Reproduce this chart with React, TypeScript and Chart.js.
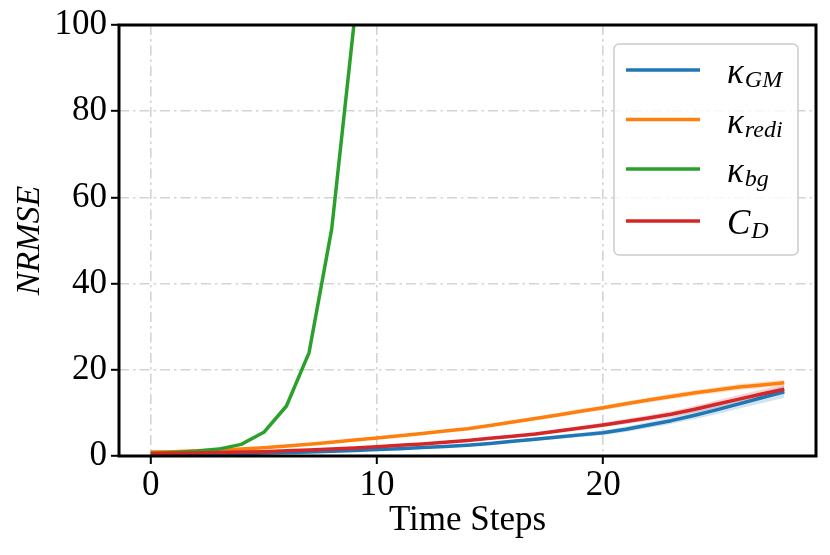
import { useEffect, useRef } from "react";
import { Chart, registerables } from "chart.js";

Chart.register(...registerables);

const steps = [0, 1, 2, 3, 4, 5, 6, 7, 8, 9, 10, 11, 12, 13, 14, 15, 16, 17, 18, 19, 20, 21, 22, 23, 24, 25, 26, 27, 28];

const kappaGM = [0.4, 0.45, 0.5, 0.55, 0.6, 0.7, 0.8, 0.95, 1.1, 1.3, 1.5, 1.7, 1.95, 2.2, 2.5, 2.9, 3.4, 3.9, 4.4, 4.9, 5.4, 6.2, 7.2, 8.2, 9.4, 10.7, 12.1, 13.5, 14.9];
const kappaRedi = [0.9, 1.0, 1.2, 1.4, 1.6, 1.9, 2.3, 2.7, 3.2, 3.7, 4.2, 4.7, 5.2, 5.8, 6.3, 7.1, 7.9, 8.7, 9.5, 10.4, 11.2, 12.1, 13.0, 13.8, 14.6, 15.3, 16.0, 16.5, 17.0];
const kappaBgSteps = [0, 1, 2, 3, 4, 5, 6, 7, 8, 9, 10];
const kappaBg = [0.6, 0.8, 1.1, 1.6, 2.7, 5.5, 11.6, 24.0, 52.7, 101.0, 190.0];
const dragCD = [0.6, 0.65, 0.7, 0.8, 0.9, 1.0, 1.2, 1.4, 1.6, 1.85, 2.15, 2.5, 2.8, 3.2, 3.6, 4.1, 4.6, 5.1, 5.8, 6.5, 7.2, 8.0, 8.8, 9.7, 10.8, 12.0, 13.2, 14.4, 15.5];

const stdGM = [0.05, 0.05, 0.05, 0.06, 0.07, 0.08, 0.09, 0.1, 0.12, 0.14, 0.16, 0.18, 0.2, 0.23, 0.26, 0.3, 0.34, 0.38, 0.43, 0.48, 0.54, 0.62, 0.7, 0.8, 0.9, 1.0, 1.1, 1.25, 1.4];
const stdRedi = [0.05, 0.05, 0.06, 0.07, 0.08, 0.09, 0.1, 0.12, 0.14, 0.16, 0.18, 0.2, 0.23, 0.26, 0.3, 0.34, 0.38, 0.42, 0.46, 0.5, 0.54, 0.57, 0.6, 0.62, 0.64, 0.66, 0.68, 0.7, 0.72];
const stdCD = [0.05, 0.05, 0.05, 0.06, 0.07, 0.08, 0.09, 0.1, 0.12, 0.14, 0.16, 0.18, 0.2, 0.23, 0.26, 0.3, 0.34, 0.38, 0.42, 0.47, 0.52, 0.58, 0.64, 0.7, 0.78, 0.86, 0.94, 1.02, 1.1];

const xTicks = [0, 10, 20];
const yTicks = [0, 20, 40, 60, 80, 100];

const xTitle = "Time Steps";
const yTitle = "NRMSE";

const legendMain = ["κ", "κ", "κ", "C"];
const legendSub = ["GM", "redi", "bg", "D"];
const colors = ["#1f77b4", "#ff7f0e", "#2ca02c", "#d62728"];

const FONT = '"Liberation Serif", "Times New Roman", serif';

function pts(xs: number[], ys: number[]) {
  return ys.map((y, i) => ({ x: xs[i], y }));
}
function band(xs: number[], ys: number[], sd: number[], sign: number) {
  return ys.map((y, i) => ({ x: xs[i], y: y + sign * sd[i] }));
}
function rgba(hex: string, a: number) {
  const r = parseInt(hex.slice(1, 3), 16);
  const g = parseInt(hex.slice(3, 5), 16);
  const b = parseInt(hex.slice(5, 7), 16);
  return `rgba(${r},${g},${b},${a})`;
}

const framePlugin = {
  id: "frame",
  afterDatasetsDraw(chart: any) {
    const { ctx, chartArea } = chart;
    const { left, top, right, bottom } = chartArea;
    ctx.save();
    ctx.strokeStyle = "#000";
    ctx.lineWidth = 3;
    ctx.strokeRect(left, top, right - left, bottom - top);
    ctx.restore();
  },
};

const legendPlugin = {
  id: "mathLegend",
  afterDraw(chart: any) {
    const { ctx } = chart;
    const bx = 614, by = 44, bw = 184, bh = 211;
    ctx.save();
    ctx.beginPath();
    ctx.roundRect(bx, by, bw, bh, 5);
    ctx.fillStyle = "rgba(255,255,255,0.8)";
    ctx.fill();
    ctx.strokeStyle = "#cccccc";
    ctx.lineWidth = 1.5;
    ctx.stroke();
    const rows = [70, 119.5, 169, 221];
    rows.forEach((ly, i) => {
      ctx.beginPath();
      ctx.strokeStyle = colors[i];
      ctx.lineWidth = 3.5;
      ctx.moveTo(626, ly);
      ctx.lineTo(700, ly);
      ctx.stroke();
      ctx.fillStyle = "#000";
      ctx.textAlign = "left";
      ctx.textBaseline = "alphabetic";
      ctx.font = `italic 35px ${FONT}`;
      const mx = 727;
      ctx.fillText(legendMain[i], mx, ly + 13);
      const w = ctx.measureText(legendMain[i]).width;
      ctx.font = `italic 24px ${FONT}`;
      ctx.fillText(legendSub[i], mx + w + 1, ly + 17);
    });
    ctx.restore();
  },
};

export default function App() {
  const ref = useRef<HTMLCanvasElement | null>(null);
  useEffect(() => {
    if (!ref.current) return;
    const mkBand = (xs: number[], ys: number[], sd: number[], color: string) => [
      {
        data: band(xs, ys, sd, -1),
        borderWidth: 0,
        pointRadius: 0,
        fill: false,
        order: 10,
        borderColor: "transparent",
      },
      {
        data: band(xs, ys, sd, 1),
        borderWidth: 0,
        pointRadius: 0,
        fill: "-1",
        backgroundColor: rgba(color, 0.2),
        order: 10,
        borderColor: "transparent",
      },
    ];
    const line = (xs: number[], ys: number[], color: string, order: number) => ({
      data: pts(xs, ys),
      borderColor: color,
      backgroundColor: color,
      borderWidth: 3.5,
      pointRadius: 0,
      fill: false,
      tension: 0,
      borderJoinStyle: "round",
      borderCapStyle: "butt",
      order,
    });
    const chart = new Chart(ref.current, {
      type: "line",
      data: {
        datasets: [
          ...mkBand(steps, kappaGM, stdGM, colors[0]),
          ...mkBand(steps, kappaRedi, stdRedi, colors[1]),
          ...mkBand(steps, dragCD, stdCD, colors[3]),
          line(steps, kappaGM, colors[0], 4),
          line(steps, kappaRedi, colors[1], 3),
          line(kappaBgSteps, kappaBg, colors[2], 2),
          line(steps, dragCD, colors[3], 1),
        ] as any,
      },
      options: {
        animation: false,
        responsive: false,
        devicePixelRatio: 1,
        layout: { padding: { left: 0, top: 25, right: 14, bottom: 0 } },
        plugins: {
          legend: { display: false },
          tooltip: { enabled: false },
        },
        scales: {
          x: {
            type: "linear",
            min: -1.4,
            max: 29.4,
            afterBuildTicks: (s: any) => {
              s.ticks = xTicks.map((v) => ({ value: v }));
            },
            afterFit: (s: any) => {
              s.height = 99;
            },
            ticks: {
              font: { family: FONT, size: 35 },
              color: "#000",
              padding: 1,
              maxRotation: 0,
              callback: (v: any) => String(v),
            },
            grid: {
              color: "#d4d4d4",
              lineWidth: 1.6,
              tickLength: 8,
              tickColor: "#000",
              tickWidth: 2,
            },
            border: { display: false, dash: [10, 4, 2.5, 4] },
            title: {
              display: true,
              text: xTitle,
              font: { family: FONT, size: 35 },
              color: "#000",
              padding: { top: 0, bottom: 13 },
            },
          },
          y: {
            type: "linear",
            min: 0,
            max: 100,
            afterBuildTicks: (s: any) => {
              s.ticks = yTicks.map((v) => ({ value: v }));
            },
            afterFit: (s: any) => {
              s.width = 119;
            },
            ticks: {
              font: { family: FONT, size: 35 },
              color: "#000",
              padding: 4,
            },
            grid: {
              color: "#d4d4d4",
              lineWidth: 1.6,
              tickLength: 8,
              tickColor: "#000",
              tickWidth: 2,
            },
            border: { display: false, dash: [10, 4, 2.5, 4] },
            title: {
              display: true,
              text: yTitle,
              font: { family: FONT, size: 34, style: "italic" },
              color: "#000",
              padding: { top: 10, bottom: 0 },
            },
          },
        },
      },
      plugins: [framePlugin, legendPlugin],
    });
    return () => chart.destroy();
  }, []);
  return (
    <div style={{ position: "absolute", left: 0, top: 0, width: 830, height: 555, background: "#fff" }}>
      <canvas ref={ref} width={830} height={555} style={{ width: 830, height: 555 }} />
    </div>
  );
}
